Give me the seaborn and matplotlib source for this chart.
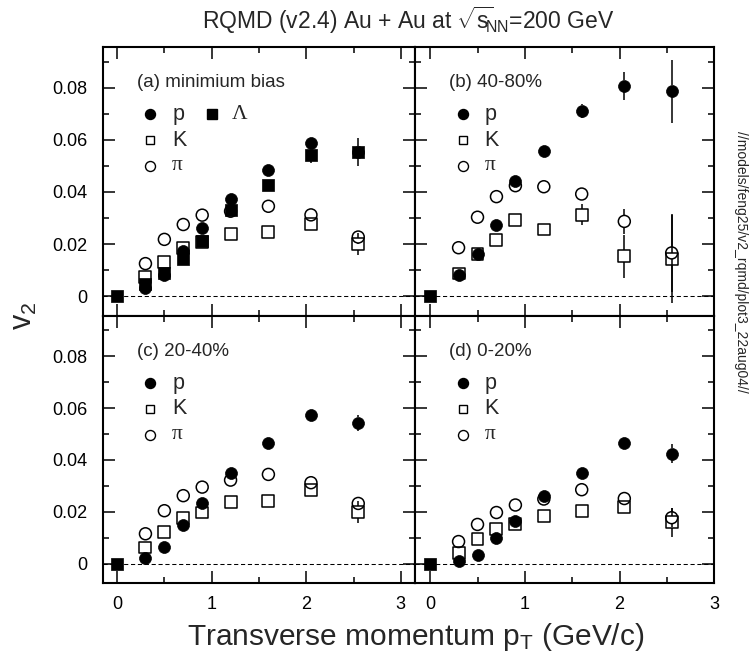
import numpy as np
import pandas as pd
import matplotlib
matplotlib.use("Agg")
import matplotlib.pyplot as plt
import seaborn as sns
from matplotlib.ticker import MultipleLocator, FixedLocator, FixedFormatter

# ---------------- data ----------------
pt = [0.3, 0.5, 0.7, 0.9, 1.2, 1.6, 2.05, 2.55]
origin_x = [0.0]
origin_y = [0.0]

# (a) minimum bias
a_p = [0.0032, 0.0080, 0.0172, 0.0262, 0.0372, 0.0485, 0.0589, 0.0555]
a_p_err = [0.0004, 0.0004, 0.0005, 0.0005, 0.0006, 0.0008, 0.0012, 0.0020]
a_lam = [0.0048, 0.0088, 0.0144, 0.0211, 0.0330, 0.0428, 0.0540, 0.0553]
a_lam_err = [0.0005, 0.0006, 0.0007, 0.0008, 0.0010, 0.0012, 0.0028, 0.0053]
a_K = [0.0072, 0.0131, 0.0186, 0.0208, 0.0237, 0.0246, 0.0278, 0.0199]
a_K_err = [0.0003, 0.0003, 0.0004, 0.0004, 0.0005, 0.0006, 0.0012, 0.0042]
a_pi = [0.0125, 0.0218, 0.0275, 0.0311, 0.0326, 0.0345, 0.0312, 0.0227]
a_pi_err = [0.0002, 0.0002, 0.0003, 0.0003, 0.0004, 0.0005, 0.0006, 0.0025]

# (b) 40-80%
b_p = [0.0083, 0.0163, 0.0274, 0.0443, 0.0558, 0.0710, 0.0806, 0.0786]
b_p_err = [0.0008, 0.0009, 0.0010, 0.0012, 0.0014, 0.0028, 0.0054, 0.0120]
b_K = [0.0087, 0.0163, 0.0217, 0.0294, 0.0256, 0.0312, 0.0153, 0.0144]
b_K_err = [0.0008, 0.0009, 0.0010, 0.0012, 0.0014, 0.0040, 0.0082, 0.0169]
b_pi = [0.0186, 0.0303, 0.0382, 0.0424, 0.0420, 0.0392, 0.0287, 0.0166]
b_pi_err = [0.0005, 0.0006, 0.0007, 0.0008, 0.0010, 0.0014, 0.0048, 0.0150]

# (c) 20-40%
c_p = [0.0020, 0.0063, 0.0149, 0.0235, 0.0350, 0.0465, 0.0572, 0.0542]
c_p_err = [0.0004, 0.0004, 0.0005, 0.0005, 0.0006, 0.0008, 0.0012, 0.0032]
c_K = [0.0062, 0.0123, 0.0177, 0.0197, 0.0236, 0.0241, 0.0283, 0.0200]
c_K_err = [0.0003, 0.0003, 0.0004, 0.0004, 0.0005, 0.0006, 0.0010, 0.0042]
c_pi = [0.0115, 0.0204, 0.0262, 0.0295, 0.0322, 0.0344, 0.0312, 0.0232]
c_pi_err = [0.0002, 0.0002, 0.0003, 0.0003, 0.0004, 0.0005, 0.0006, 0.0025]

# (d) 0-20%
d_p = [0.0010, 0.0033, 0.0097, 0.0165, 0.0260, 0.0350, 0.0465, 0.0424]
d_p_err = [0.0004, 0.0004, 0.0005, 0.0005, 0.0006, 0.0008, 0.0012, 0.0037]
d_K = [0.0042, 0.0094, 0.0133, 0.0153, 0.0185, 0.0204, 0.0217, 0.0159]
d_K_err = [0.0003, 0.0003, 0.0004, 0.0004, 0.0005, 0.0006, 0.0010, 0.0055]
d_pi = [0.0085, 0.0151, 0.0197, 0.0226, 0.0249, 0.0285, 0.0251, 0.0177]
d_pi_err = [0.0002, 0.0002, 0.0003, 0.0003, 0.0004, 0.0005, 0.0006, 0.0036]

panel_labels = ["(a) minimium bias", "(b) 40-80%", "(c) 20-40%", "(d) 0-20%"]
species_labels = ["p", "K", "\u03c0", "\u039b"]
x_ticks = [0, 1, 2, 3]
y_ticks = [0, 0.02, 0.04, 0.06, 0.08]
y_tick_labels = ["0", "0.02", "0.04", "0.06", "0.08"]

title = r"RQMD (v2.4) Au + Au at $\mathregular{\sqrt{s}\!\!_{NN}}$=200 GeV"
xlabel = r"Transverse momentum $\mathregular{p_T}$ (GeV/c)"
ylabel = r"$\mathregular{v_2}$"
side_text = "//models/feng25/v2_rqmd/plot3_22aug04//"

# ---------------- style ----------------
sns.set_style("ticks")
plt.rcParams["font.family"] = ["Liberation Sans", "DejaVu Sans"]
plt.rcParams["mathtext.fontset"] = "custom"
plt.rcParams["mathtext.rm"] = "Liberation Sans"
plt.rcParams["mathtext.it"] = "Liberation Sans:italic"

W, H = 751, 658
fig = plt.figure(figsize=(W / 100, H / 100), dpi=100)

xl_left, xr_left, xr_right = 102.7, 415.0, 714.3
yt_top, y_mid, yb_bot = 47.3, 316.0, 583.3

def fig_rect(x0, x1, y0, y1):
    return [x0 / W, 1 - y1 / H, (x1 - x0) / W, (y1 - y0) / H]

rects = [
    fig_rect(xl_left, xr_left, yt_top, y_mid),
    fig_rect(xr_left, xr_right, yt_top, y_mid),
    fig_rect(xl_left, xr_left, y_mid, yb_bot),
    fig_rect(xr_left, xr_right, y_mid, yb_bot),
]
xlims = [(-0.152, 3.15), (-0.16, 3.0), (-0.152, 3.15), (-0.16, 3.0)]
ylim = (-0.0076, 0.0955)

panels = [
    dict(p=(a_p, a_p_err), K=(a_K, a_K_err), pi=(a_pi, a_pi_err), lam=(a_lam, a_lam_err)),
    dict(p=(b_p, b_p_err), K=(b_K, b_K_err), pi=(b_pi, b_pi_err), lam=None),
    dict(p=(c_p, c_p_err), K=(c_K, c_K_err), pi=(c_pi, c_pi_err), lam=None),
    dict(p=(d_p, d_p_err), K=(d_K, d_K_err), pi=(d_pi, d_pi_err), lam=None),
]

MS = 8.6        # marker size in points
S = MS ** 2
LW_OPEN = 1.1
greek = ["Liberation Serif", "DejaVu Serif"]

for i, (rect, pan) in enumerate(zip(rects, panels)):
    ax = fig.add_axes(rect)
    ax.set_xlim(*xlims[i])
    ax.set_ylim(*ylim)
    ax.axhline(0, color="k", lw=0.75, ls=(0, (4, 2.6)), zorder=1)

    aw = rect[2] * W
    ah = rect[3] * H
    # marker half-size in data units: error bars are drawn outside the marker only
    r_data = (MS * 100 / 72 / 2) * (ylim[1] - ylim[0]) / ah

    for key in ["K", "pi", "p", "lam"]:
        if pan[key] is None:
            continue
        vals, errs = pan[key]
        x = np.asarray(pt)
        y = np.asarray(vals)
        e = np.asarray(errs)
        m = e > r_data
        ax.vlines(x[m], y[m] + r_data, y[m] + e[m], color="k", lw=1.1, zorder=2)
        ax.vlines(x[m], y[m] - e[m], y[m] - r_data, color="k", lw=1.1, zorder=2)

    # open squares (K)
    sns.scatterplot(x=pt, y=pan["K"][0], ax=ax, marker="s", s=S,
                    color="k", linewidth=LW_OPEN, zorder=3, legend=False)
    ax.collections[-1].set_facecolor("none")
    ax.collections[-1].set_edgecolor("k")
    # open circles (pi)
    sns.scatterplot(x=pt, y=pan["pi"][0], ax=ax, marker="o", s=S,
                    color="k", linewidth=LW_OPEN, zorder=3, legend=False)
    ax.collections[-1].set_facecolor("none")
    ax.collections[-1].set_edgecolor("k")
    # filled circles (p)
    sns.scatterplot(x=pt, y=pan["p"][0], ax=ax, marker="o", s=S,
                    color="k", edgecolor="k", linewidth=0.5, zorder=4, legend=False)
    # filled squares (Lambda)
    if pan["lam"] is not None:
        sns.scatterplot(x=pt, y=pan["lam"][0], ax=ax, marker="s", s=S,
                        color="k", edgecolor="k", linewidth=0.5, zorder=4, legend=False)
    # origin point
    sns.scatterplot(x=origin_x, y=origin_y, ax=ax, marker="s", s=S,
                    color="k", edgecolor="k", linewidth=0.5, zorder=5,
                    legend=False, clip_on=False)

    # ticks
    ax.xaxis.set_major_locator(FixedLocator(x_ticks))
    ax.xaxis.set_minor_locator(MultipleLocator(0.5))
    ax.yaxis.set_major_locator(FixedLocator(y_ticks))
    ax.yaxis.set_major_formatter(FixedFormatter(y_tick_labels))
    ax.yaxis.set_minor_locator(MultipleLocator(0.01))
    ax.tick_params(which="both", direction="in", top=True, right=True,
                   bottom=True, left=True, width=1.1, color="k",
                   labelsize=13, labelcolor="k")
    ax.tick_params(which="major", length=8.6)
    ax.tick_params(which="minor", length=4.3)
    ax.tick_params(axis="x", pad=9)
    ax.tick_params(axis="y", pad=11)
    if i < 2:
        ax.tick_params(labelbottom=False)
    if i % 2 == 1:
        ax.tick_params(labelleft=False)
    for sp in ax.spines.values():
        sp.set_linewidth(1.5)
        sp.set_color("k")
        sp.set_visible(True)
    ax.set_xlabel("")
    ax.set_ylabel("")

    # in-panel labels / legend (pixel offsets from top-left corner)
    fx = lambda px: px / aw
    fy = lambda py: 1 - py / ah
    ax.text(fx(34), fy(35), panel_labels[i], transform=ax.transAxes,
            fontsize=13.5, ha="left", va="center")
    rows = [67, 93, 118.5]
    ax.plot([fx(47.5)], [fy(rows[0])], marker="o", ms=7.2, color="k", mec="k",
            transform=ax.transAxes, clip_on=False)
    ax.plot([fx(47.5)], [fy(rows[1])], marker="s", ms=6.2, mfc="none", mec="k",
            mew=1.0, transform=ax.transAxes, clip_on=False)
    ax.plot([fx(47.5)], [fy(rows[2])], marker="o", ms=7.2, mfc="none", mec="k",
            mew=1.0, transform=ax.transAxes, clip_on=False)
    ax.text(fx(69.5), fy(rows[0]), species_labels[0], transform=ax.transAxes,
            fontsize=15.5, ha="left", va="center")
    ax.text(fx(69.5), fy(rows[1]), species_labels[1], transform=ax.transAxes,
            fontsize=15.5, ha="left", va="center")
    ax.text(fx(69.5), fy(rows[2]), species_labels[2], transform=ax.transAxes,
            fontsize=15.5, ha="left", va="center", family=greek)
    if pan["lam"] is not None:
        ax.plot([fx(109)], [fy(rows[0])], marker="s", ms=7.2, color="k", mec="k",
                transform=ax.transAxes, clip_on=False)
        ax.text(fx(129), fy(rows[0]), species_labels[3], transform=ax.transAxes,
                fontsize=15.5, ha="left", va="center", family=greek)

fig.text(408.5 / W, 1 - 20 / H, title, fontsize=16.5, ha="center", va="center")
fig.text(416 / W, 1 - 637 / H, xlabel, fontsize=21.5, ha="center", va="center")
fig.text(24 / W, 1 - 316 / H, ylabel, fontsize=22, rotation=90,
         ha="center", va="center")
fig.text(741.5 / W, 1 - 262 / H, side_text, fontsize=10, rotation=-90,
         ha="center", va="center")

fig.savefig("out.png", dpi=100)
